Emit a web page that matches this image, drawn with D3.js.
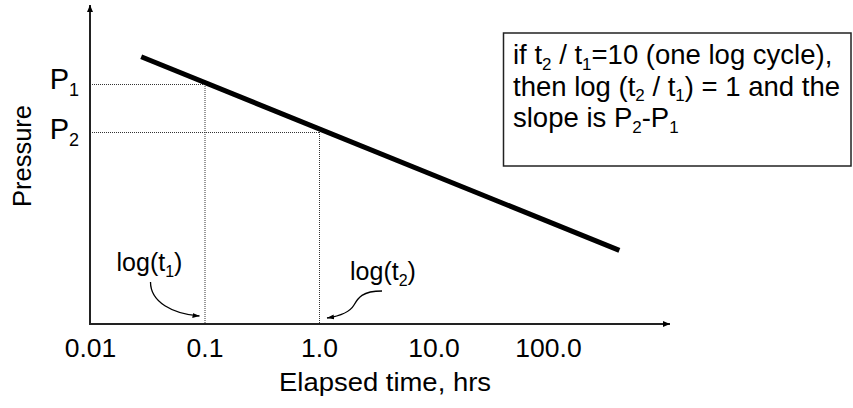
<!DOCTYPE html>
<html><head><meta charset="utf-8">
<script src="https://cdn.jsdelivr.net/npm/d3@7"></script>
<style>body{margin:0;background:#fff}svg{display:block}text{font-family:"Liberation Sans",Arial,sans-serif;fill:#000}</style>
</head><body>
<script>
// ---- data ----
const tickValues = [0.01, 0.1, 1, 10, 100];
const tickLabels = ["0.01", "0.1", "1.0", "10.0", "100.0"];
const lineTimes = [0.028, 420];
const linePressures = [83.5, 23];
const markTimes = [0.1, 1];          // t1, t2
const markPressures = [75, 60];      // P1, P2
const markSubs = ["1", "2"];
const xTitle = "Elapsed time, hrs";
const yTitle = "Pressure";
const noteLines = [
  [["if t"], ["2", 1], [" / t"], ["1", 1], ["=10 (one log cycle),"]],
  [["then log (t"], ["2", 1], [" / t"], ["1", 1], [") = 1 and the"]],
  [["slope is P"], ["2", 1], ["-P"], ["1", 1]]
];

// ---- layout ----
const W = 853, H = 408;
const x0 = 90, yBase = 324, xEnd = 670, yTop = 5;
const x = d3.scaleLog().domain([0.01, 100]).range([x0, 548]);
const y = d3.scaleLinear().domain([0, 100]).range([yBase, 4]);

const svg = d3.select("body").append("svg").attr("width", W).attr("height", H);
const defs = svg.append("defs");
function marker(id, len, wid) {
  defs.append("marker").attr("id", id).attr("viewBox", `0 0 ${len} ${wid}`)
    .attr("refX", len).attr("refY", wid / 2).attr("markerWidth", len).attr("markerHeight", wid)
    .attr("markerUnits", "userSpaceOnUse").attr("orient", "auto")
    .append("path").attr("d", `M0,0L${len},${wid/2}L0,${wid}Z`).attr("fill", "#000");
}
marker("ax", 7, 6);
marker("ann", 7, 5);

function rich(sel, parts, size, subSize, subDy) {
  let down = false;
  parts.forEach(p => {
    const isSub = !!p[1];
    const ts = sel.append("tspan").text(p[0]).attr("font-size", isSub ? subSize : size);
    if (isSub && !down) { ts.attr("dy", subDy); down = true; }
    else if (!isSub && down) { ts.attr("dy", -subDy); down = false; }
  });
}

// dotted guides
const dot = svg.append("g").attr("stroke", "#333").attr("stroke-width", 1).attr("stroke-dasharray", "1,1").attr("fill", "none");
markTimes.forEach((t, i) => {
  dot.append("line").attr("x1", x0 + 2).attr("x2", x(t)).attr("y1", y(markPressures[i]) + 0.5).attr("y2", y(markPressures[i]) + 0.5);
  dot.append("line").attr("x1", x(t) + 0.5).attr("x2", x(t) + 0.5).attr("y1", y(markPressures[i])).attr("y2", yBase);
});

// axes
svg.append("line").attr("x1", x0).attr("x2", x0).attr("y1", yBase).attr("y2", yTop)
  .attr("stroke", "#222").attr("stroke-width", 2).attr("marker-end", "url(#ax)");
svg.append("line").attr("x1", x0 - 1).attr("x2", xEnd).attr("y1", yBase).attr("y2", yBase)
  .attr("stroke", "#222").attr("stroke-width", 2).attr("marker-end", "url(#ax)");

// tick labels via axis
const xAxis = d3.axisBottom(x).tickValues(tickValues).tickFormat((d, i) => tickLabels[i]).tickSize(0).tickPadding(0);
const gx = svg.append("g").attr("transform", `translate(0,${yBase})`).call(xAxis);
gx.select(".domain").remove();
gx.selectAll("text").attr("font-size", 26.5).attr("dy", null).attr("y", 33)
  .style("font-family", '"Liberation Sans",Arial,sans-serif').attr("fill", "#000");

// main line
const line = d3.line().x(d => x(d[0])).y(d => y(d[1]));
svg.append("path").datum(lineTimes.map((t, i) => [t, linePressures[i]]))
  .attr("d", line).attr("stroke", "#000").attr("stroke-width", 5).attr("fill", "none");

// P labels
markPressures.forEach((p, i) => {
  const t = svg.append("text").attr("x", 79).attr("y", y(p) + 5 + i * 2).attr("text-anchor", "end");
  rich(t, [["P"], [markSubs[i], 1]], 29, 18, 7);
});

// titles
svg.append("text").attr("x", 385).attr("y", 391).attr("text-anchor", "middle").attr("font-size", 25)
  .attr("textLength", 212).attr("lengthAdjust", "spacingAndGlyphs").text(xTitle);
svg.append("text").attr("transform", "translate(31,156) rotate(-90)").attr("text-anchor", "middle")
  .attr("font-size", 25.5).text(yTitle);

// log(t) annotations
const xt1 = x(markTimes[0]), xt2 = x(markTimes[1]);
const l1 = svg.append("text").attr("x", xt1 - 55).attr("y", 271).attr("text-anchor", "middle");
rich(l1, [["log(t"], ["1", 1], [")"]], 25, 16, 6);
const l2 = svg.append("text").attr("x", xt2 + 64).attr("y", 280).attr("text-anchor", "middle");
rich(l2, [["log(t"], ["2", 1], [")"]], 25, 16, 6);
svg.append("path").attr("d", `M${xt1-54},282 C${xt1-54},302 ${xt1-32},314 ${xt1-5},316`)
  .attr("stroke", "#000").attr("stroke-width", 1.3).attr("fill", "none").attr("marker-end", "url(#ann)");
svg.append("path").attr("d", `M${xt2+63},291 C${xt2+43},291 ${xt2+39},298 ${xt2+35},305 C${xt2+31},312 ${xt2+21},316 ${xt2+8},318`)
  .attr("stroke", "#000").attr("stroke-width", 1.3).attr("fill", "none").attr("marker-end", "url(#ann)");

// note box
svg.append("rect").attr("x", 503.5).attr("y", 33).attr("width", 347.5).attr("height", 133)
  .attr("fill", "#fff").attr("stroke", "#222").attr("stroke-width", 1.5);
noteLines.forEach((parts, i) => {
  const t = svg.append("text").attr("x", 513).attr("y", 64 + i * 31.7);
  rich(t, parts, 27.5, 17, 5.5);
});
</script>
</body></html>
